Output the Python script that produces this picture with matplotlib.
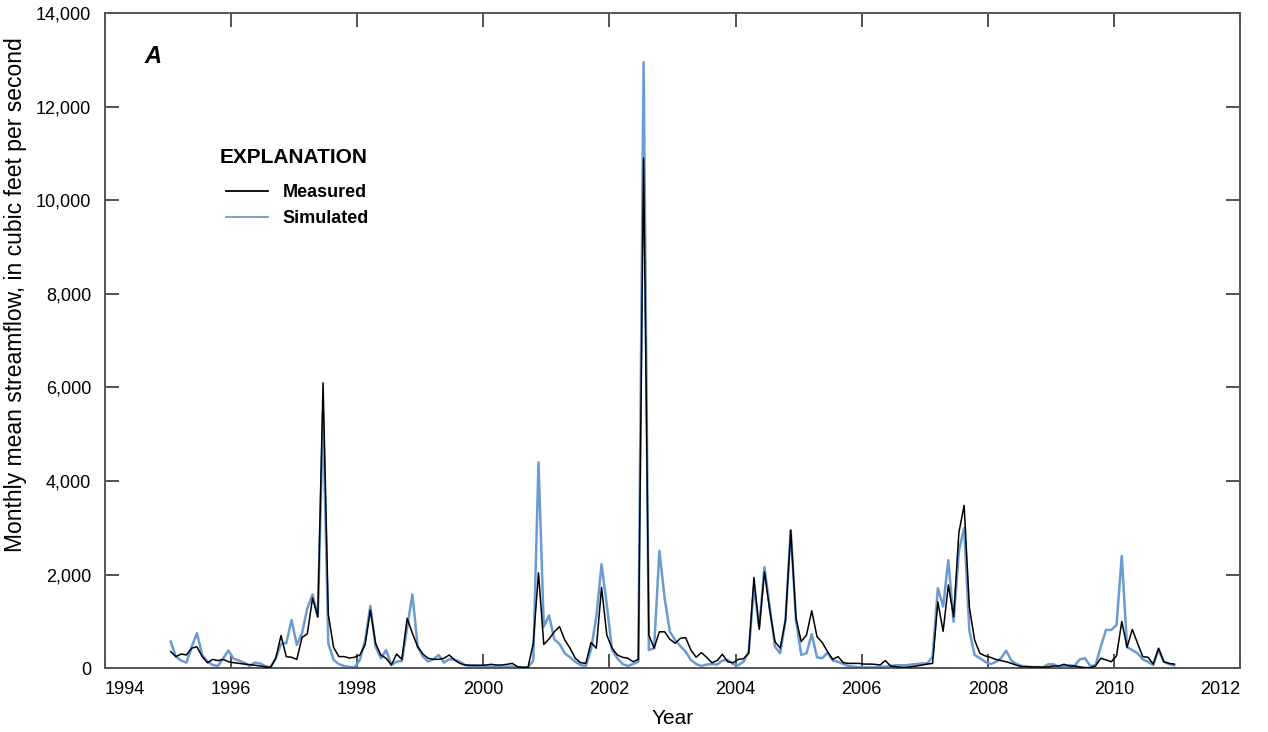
import numpy as np
import matplotlib
matplotlib.use("Agg")
import matplotlib.pyplot as plt
from matplotlib.ticker import FuncFormatter, FixedLocator

plt.rcParams['font.family'] = ['Liberation Sans', 'DejaVu Sans']

start_year = 1995
measured = [
    356, 250, 305, 285, 430, 460, 250, 120, 190, 165, 190, 140,
    120, 105, 90, 80, 65, 50, 30, 20, 215, 700, 250, 235,
    190, 660, 735, 1500, 1100, 6100, 1150, 450, 250, 250, 220, 235,
    285, 500, 1245, 530, 284, 213, 71, 305, 190, 1067, 747, 463,
    305, 213, 192, 192, 213, 284, 178, 107, 71, 65, 65, 65,
    70, 85, 70, 70, 85, 105, 35, 20, 20, 530, 2040, 510,
    625, 780, 890, 605, 430, 215, 120, 105, 550, 430, 1730, 710,
    430, 285, 235, 215, 140, 190, 10900, 710, 430, 780, 780, 620,
    535, 640, 655, 390, 235, 335, 235, 120, 165, 300, 140, 120,
    190, 205, 320, 1940, 830, 2060, 1240, 570, 430, 1030, 2950, 1070,
    570, 710, 1230, 675, 550, 355, 190, 250, 120, 105, 105, 105,
    90, 90, 85, 70, 165, 50, 35, 20, 20, 35, 50, 70,
    90, 105, 1420, 790, 1780, 1100, 2900, 3480, 1300, 605, 320, 265,
    235, 190, 165, 140, 105, 65, 35, 35, 30, 30, 25, 30,
    50, 50, 85, 50, 50, 30, 15, 15, 50, 215, 180, 140,
    265, 1000, 450, 830, 535, 250, 235, 90, 430, 140, 105, 90,
]
simulated = [
    570, 250, 165, 120, 460, 750, 285, 140, 70, 50, 215, 380,
    200, 165, 120, 50, 120, 105, 50, 20, 215, 520, 535, 1030,
    500, 750, 1280, 1580, 1100, 5450, 530, 180, 90, 50, 30, 20,
    180, 600, 1330, 460, 213, 391, 71, 142, 156, 870, 1580, 463,
    249, 142, 192, 284, 121, 192, 190, 140, 70, 50, 50, 35,
    30, 35, 35, 20, 35, 35, 20, 20, 20, 165, 4400, 890,
    1130, 620, 520, 320, 235, 140, 70, 50, 400, 1100, 2220, 1350,
    390, 215, 90, 50, 90, 140, 12950, 390, 430, 2510, 1500, 780,
    605, 475, 355, 180, 90, 50, 80, 90, 80, 165, 180, 90,
    65, 140, 355, 1745, 875, 2160, 1320, 460, 320, 1030, 2950, 1030,
    285, 320, 730, 235, 215, 335, 165, 140, 90, 50, 35, 20,
    20, 20, 20, 30, 35, 50, 65, 65, 65, 80, 90, 105,
    105, 250, 1710, 1320, 2310, 995, 2500, 3000, 800, 285, 215, 140,
    90, 135, 215, 375, 165, 90, 50, 35, 25, 25, 20, 85,
    85, 35, 50, 65, 50, 190, 215, 50, 65, 460, 820, 820,
    925, 2400, 450, 390, 320, 190, 140, 70, 405, 140, 90, 65,
]
x_ticks = list(range(1994, 2013, 2))
y_ticks = list(range(0, 14001, 2000))

t = start_year + (np.arange(len(measured)) + 0.5) / 12.0

fig = plt.figure(figsize=(12.68, 7.32), dpi=100)
ax = fig.add_axes([105 / 1268, 1 - 668.3 / 732, 1135 / 1268, 655.3 / 732])

ax.plot(t, simulated, color='#6b9bd3', lw=1.8, label='Simulated', zorder=2)
ax.plot(t, measured, color='black', lw=1.1, label='Measured', zorder=3)

ax.set_xlim(1994, 2012)
ax.set_ylim(0, 14000)
ax.xaxis.set_major_locator(FixedLocator(x_ticks))
ax.yaxis.set_major_locator(FixedLocator(y_ticks))
ax.yaxis.set_major_formatter(FuncFormatter(lambda v, p: f"{int(v):,}"))

ax.tick_params(axis='both', direction='in', length=10, width=1.3, color='#444444',
               top=True, right=True, labelsize=13, colors='black')
ax.tick_params(axis='y', pad=10)
ax.tick_params(axis='x', pad=9)
for s in ax.spines.values():
    s.set_color('#555555')
    s.set_linewidth(1.4)

xl = ax.get_xticklabels()
xl[0].set_horizontalalignment('left')
xl[-1].set_horizontalalignment('right')

ax.set_xlabel('Year', fontsize=15, labelpad=8)
ax.set_ylabel('Monthly mean streamflow, in cubic feet per second', fontsize=16.5)
ax.yaxis.set_label_coords(-0.069, 0.57)

ax.text(0.035, 0.933, 'A', transform=ax.transAxes, fontsize=17, fontweight='bold',
        fontstyle='italic', ha='left', va='center')

ax.text(0.1013, 0.780, 'EXPLANATION', transform=ax.transAxes, fontsize=15,
        fontweight='bold', ha='left', va='center')

h, l = ax.get_legend_handles_labels()
leg = ax.legend(h[::-1], l[::-1], loc='upper left', bbox_to_anchor=(0.1066, 0.739),
                frameon=False, prop={'weight': 'bold', 'size': 13},
                handlelength=2.3, handletextpad=0.85,
                borderpad=0, borderaxespad=0, labelspacing=0.5)
for line in leg.get_lines():
    line.set_linewidth(1.3)

fig.savefig('out.png', dpi=100)
